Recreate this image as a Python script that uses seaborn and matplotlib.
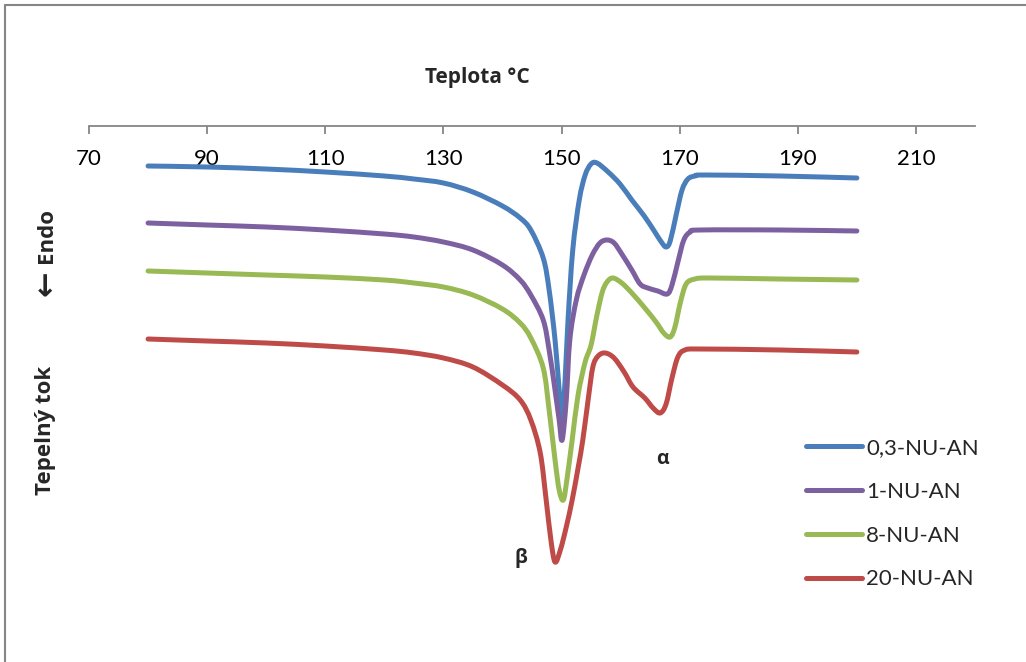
import matplotlib
matplotlib.use("Agg")
import matplotlib.pyplot as plt
from matplotlib.lines import Line2D
from matplotlib.path import Path
from matplotlib.patches import PathPatch
import numpy as np
import seaborn as sns
import pandas as pd

# DSC heating curves: temperature (°C) and heat flow (arbitrary units, endo down)
t_03 = [80, 90, 100, 110, 120, 125, 130, 135, 140, 143, 144.8, 146.9, 147.9, 148.9, 149.6,
        150.1, 150.6, 151.1, 151.9, 153.0, 154.0, 155.0, 156.0, 157.9, 159.9, 161.9, 164.0,
        165.8, 166.9, 167.7, 168.4, 169.4, 170.4, 171.4, 172.6, 174.3, 187, 200]
hf_03 = [-0.40, -0.41, -0.43, -0.46, -0.50, -0.53, -0.57, -0.66, -0.80, -0.92, -1.04, -1.32,
         -1.64, -2.14, -2.64, -2.94, -2.54, -1.94, -1.24, -0.74, -0.49, -0.38, -0.37, -0.46,
         -0.58, -0.74, -0.90, -1.06, -1.16, -1.21, -1.15, -0.89, -0.64, -0.53, -0.50, -0.49,
         -0.50, -0.52]

t_1 = [80, 90, 100, 110, 120, 125, 130, 135, 140, 143, 144.8, 146.9, 147.9, 148.9, 149.6,
       150.1, 150.8, 151.4, 152.5, 153.8, 155.2, 156.5, 157.7, 158.9, 160.2, 161.9, 163.3,
       164.6, 166.3, 167.9, 168.7, 169.7, 170.7, 171.8, 173.5, 187, 200]
hf_1 = [-0.97, -0.99, -1.01, -1.04, -1.08, -1.11, -1.16, -1.24, -1.39, -1.54, -1.69, -1.94,
        -2.24, -2.64, -2.94, -3.14, -2.74, -2.14, -1.74, -1.49, -1.29, -1.17, -1.14, -1.17,
        -1.28, -1.44, -1.58, -1.62, -1.65, -1.68, -1.59, -1.36, -1.14, -1.06, -1.04, -1.04,
        -1.05]

t_8 = [80, 90, 100, 110, 120, 125, 130, 135, 140, 143, 144.8, 146.9, 147.9, 148.9, 149.6,
       150.3, 150.9, 151.8, 152.8, 154.0, 155.0, 156.0, 156.9, 157.7, 158.7, 160.2, 161.9,
       164.1, 166.0, 167.3, 168.4, 169.2, 170.1, 171.1, 172.6, 175.1, 187, 200]
hf_8 = [-1.45, -1.47, -1.49, -1.51, -1.54, -1.57, -1.61, -1.69, -1.83, -1.97, -2.12, -2.42,
        -2.84, -3.34, -3.64, -3.74, -3.54, -3.14, -2.69, -2.36, -2.19, -1.89, -1.66, -1.56,
        -1.52, -1.57, -1.67, -1.82, -1.96, -2.07, -2.11, -2.01, -1.77, -1.58, -1.53, -1.52,
        -1.53, -1.54]

t_20 = [80, 90, 100, 110, 120, 125, 130, 135, 140, 143, 144.8, 146.4, 147.4, 148.2, 148.9,
        149.8, 150.8, 151.8, 152.8, 153.6, 154.5, 155.3, 156.2, 157.4, 158.9, 160.6, 162.1,
        164.1, 165.5, 166.7, 167.7, 168.7, 169.7, 170.9, 173.5, 187, 200]
hf_20 = [-2.13, -2.15, -2.17, -2.20, -2.24, -2.27, -2.32, -2.41, -2.59, -2.74, -2.94, -3.27,
         -3.74, -4.14, -4.36, -4.24, -4.01, -3.74, -3.42, -3.14, -2.74, -2.41, -2.30, -2.27,
         -2.32, -2.46, -2.61, -2.72, -2.82, -2.87, -2.78, -2.52, -2.31, -2.24, -2.23, -2.24,
         -2.26]

series_names = ["0,3-NU-AN", "1-NU-AN", "8-NU-AN", "20-NU-AN"]
series_colors = ["#4A7EBB", "#7D60A0", "#98B954", "#BE4B48"]
x_ticks = [70, 90, 110, 130, 150, 170, 190, 210]

frames = []
for name, t, hf in zip(series_names, [t_03, t_1, t_8, t_20], [hf_03, hf_1, hf_8, hf_20]):
    frames.append(pd.DataFrame({"T": t, "HF": hf, "vzorek": name}))
df = pd.concat(frames, ignore_index=True)

sns.set_theme(style="white")
plt.rcParams["font.family"] = ["Lato", "DejaVu Sans"]
TITLE_FONT = ["Open Sans", "DejaVu Sans"]


def smooth_path(xy):
    """Smoothed (Catmull-Rom style) Bezier path through the given vertices."""
    p = np.vstack([xy[0], xy, xy[-1]])
    verts = [p[1]]
    codes = [Path.MOVETO]
    for i in range(1, len(p) - 2):
        c1 = p[i] + (p[i + 1] - p[i - 1]) / 6.0
        c2 = p[i + 1] - (p[i + 2] - p[i]) / 6.0
        verts += [c1, c2, p[i + 1]]
        codes += [Path.CURVE4] * 3
    return Path(verts, codes)


W, H = 1026, 662
fig = plt.figure(figsize=(W / 100, H / 100), dpi=100)
ax = fig.add_axes([89 / W, 0, (975 - 89) / W, 1 - 126 / H])

sns.lineplot(data=df, x="T", y="HF", hue="vzorek", hue_order=series_names,
             palette=series_colors, sort=False, estimator=None, units="vzorek",
             linewidth=3.6, ax=ax, legend=False)

# redraw each seaborn line as a smoothed curve
for ln in list(ax.get_lines()):
    xy = np.asarray(ln.get_xydata(), dtype=float)
    if len(xy) < 3:
        continue
    patch = PathPatch(smooth_path(xy), facecolor="none", edgecolor=ln.get_color(),
                      lw=3.6, joinstyle="round", capstyle="round",
                      transform=ax.transData)
    ax.add_patch(patch)
    ln.set_visible(False)

ax.set_xlim(70, 220)
ax.set_ylim(-(H - 126) / 100, 0)
ax.set_xticks(x_ticks)
ax.set_yticks([])
ax.set_xlabel("")
ax.set_ylabel("")
for side in ["left", "right", "bottom"]:
    ax.spines[side].set_visible(False)
ax.spines["top"].set_color("#868686")
ax.spines["top"].set_linewidth(1.3)
ax.tick_params(axis="x", bottom=False, labelbottom=False, top=True, labeltop=True,
               direction="in", length=6, width=1.3, color="#868686",
               labelsize=16, pad=-31, labelcolor="black")

# annotations of the two melting peaks
ax.text(143.1, -4.32, "β", fontsize=14, fontweight="bold", ha="center", va="center",
        family=TITLE_FONT)
ax.text(167.0, -3.33, "α", fontsize=14, fontweight="bold", ha="center", va="center",
        family=TITLE_FONT)

# axis titles
fig.text(477 / W, 1 - 78 / H, "Teplota °C", fontsize=15, fontweight="bold",
         ha="center", va="center", family=TITLE_FONT)
fig.text(46 / W, 1 - 236 / H, "Endo", fontsize=16, fontweight="bold",
         ha="center", va="center", rotation=90, family=TITLE_FONT)
fig.text(47 / W, 1 - 283 / H, "←", fontsize=22, fontweight="bold",
         ha="center", va="center", rotation=90, family=["DejaVu Sans"])
fig.text(46 / W, 1 - 430 / H, "Tepelný tok", fontsize=16, fontweight="bold",
         ha="center", va="center", rotation=90, family=TITLE_FONT)

# legend
handles = [Line2D([0], [0], color=c, lw=3.6, solid_capstyle="round") for c in series_colors]
fig.legend(handles, series_names, loc="upper left", bbox_to_anchor=(806 / W, 1 - 438 / H),
           bbox_transform=fig.transFigure, frameon=False, fontsize=16, borderpad=0,
           borderaxespad=0, handlelength=2.5, handletextpad=0.2, labelspacing=1.07)

# chart frame
fig.add_artist(Line2D([5 / W, 5 / W], [0, 1 - 5 / H], color="#868686", lw=1.5,
                      transform=fig.transFigure))
fig.add_artist(Line2D([5 / W, 1], [1 - 5 / H, 1 - 5 / H], color="#868686", lw=1.5,
                      transform=fig.transFigure))

fig.savefig("out.png", dpi=100, facecolor="white")
